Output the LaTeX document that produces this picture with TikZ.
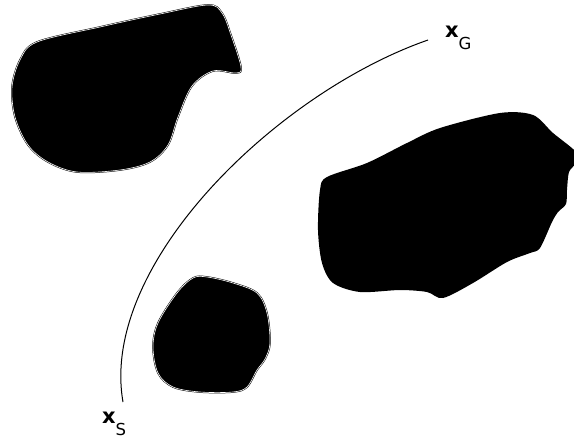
\documentclass[tikz,border=0pt]{standalone}
\usepackage{fontspec}
\setmainfont{DejaVu Sans}

\tikzset{
  obstacle/.style={fill=black, draw=black, line width=0.5pt, double=white, double distance=0.6pt},
  plain obstacle/.style={fill=black},
  route/.style={draw=black, line width=1pt},
  statelabel/.style={inner sep=0pt, anchor=base west},
}
\newcommand{\stateof}[1]{{\fontsize{21}{21}\selectfont\bfseries x}\raisebox{-12pt}{\fontsize{16.5}{16.5}\selectfont #1}}

\begin{document}
\begin{tikzpicture}[x=1pt, y=-1pt]

% Canvas
\fill[white] (0,0) rectangle (574,439);
\useasboundingbox (0,0) rectangle (574,439);
\clip (0,0) rectangle (574,439);

% ============================================================
% Obstacles
% ============================================================
% upper left
\draw[obstacle] plot[smooth cycle, tension=0.55] coordinates {
  (37,42) (100,27) (160,14) (208,5) (222,13) (231,35) (241,67) (236,73)
  (213,71) (192,86) (178,117) (168,145) (150,162) (120,170) (77,172)
  (48,162) (28,145) (15,117) (12,87) (20,60)};

% middle, small one
\draw[obstacle] plot[smooth cycle, tension=0.55] coordinates {
  (207,277) (233,283) (257,293) (267,313) (270,343) (265,359) (257,370)
  (247,387) (233,392) (200,392) (173,387) (158,373) (153,347) (158,323)
  (177,293) (193,278)};

% right, no outline
\fill[plain obstacle] plot[smooth cycle, tension=0.5] coordinates {
  (327,177) (367,163) (407,143) (440,128) (500,113) (533,115) (553,133)
  (576,152) (576,163) (569,172) (567,190) (566,204) (558,212) (552,222)
  (540,248) (530,253) (507,262) (473,283) (443,298) (427,292) (400,290)
  (360,292) (333,283) (322,263) (318,230) (320,190)};

% ============================================================
% Start and goal
% ============================================================
\coordinate (start) at (123,402);
\coordinate (goal) at (428,40);

\node[statelabel] (xs) at (102,423) {\stateof{S}};
\node[statelabel] (xg) at (445,37.5) {\stateof{G}};

% path between them
\draw[route] (start) .. controls (99,265) and (276,93) .. (goal);

\end{tikzpicture}
\end{document}
